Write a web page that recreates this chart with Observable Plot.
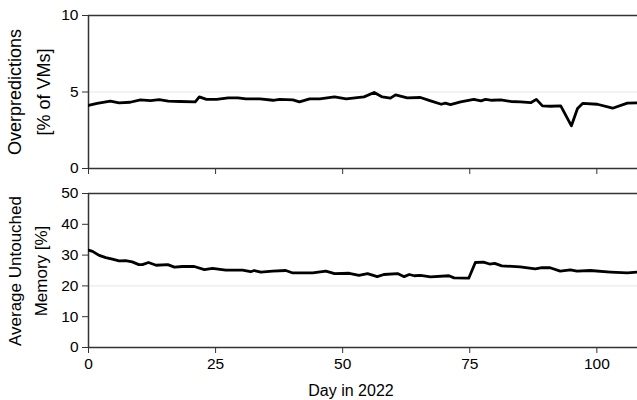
<!DOCTYPE html>
<html>
<head>
<meta charset="utf-8">
<script src="https://cdn.jsdelivr.net/npm/d3@7"></script>
<script src="https://cdn.jsdelivr.net/npm/@observablehq/plot@0.6"></script>
<style>
  html, body { margin: 0; padding: 0; background: #fff; }
  #chart { width: 637px; height: 400px; overflow: hidden; }
  #chart svg { display: block; }
</style>
</head>
<body>
<div id="chart"></div>
<script>
// Top panel: overpredictions [% of VMs]
const overDays = [0, 1.7, 4.3, 6, 8.2, 10.2, 12.2, 13.9, 15.7, 18, 21, 21.8, 23.2, 25.2, 27.5, 29.4, 31, 33.7, 36.3, 37.6, 40.2, 41.5, 43.5, 45.5, 48.4, 50.7, 52, 53.3, 54.2, 56.2, 57.8, 59.4, 60.4, 62.7, 65.3, 67.3, 69.4, 70.2, 71.2, 73.2, 75.8, 77.2, 78.1, 79.4, 81.1, 83.1, 85, 87, 88.1, 89.3, 90.9, 92.9, 95, 96.2, 97.2, 100.1, 103.1, 106, 108];
const overValues = [4.12, 4.25, 4.4, 4.29, 4.33, 4.48, 4.44, 4.5, 4.4, 4.38, 4.35, 4.68, 4.52, 4.52, 4.62, 4.62, 4.55, 4.55, 4.46, 4.52, 4.48, 4.35, 4.55, 4.55, 4.68, 4.55, 4.6, 4.65, 4.68, 4.97, 4.68, 4.6, 4.81, 4.62, 4.64, 4.42, 4.2, 4.27, 4.18, 4.35, 4.52, 4.42, 4.52, 4.46, 4.48, 4.38, 4.35, 4.3, 4.52, 4.09, 4.07, 4.09, 2.79, 3.92, 4.25, 4.2, 3.94, 4.27, 4.29];

// Bottom panel: average untouched memory [%]
const memDays = [0, 0.8, 2.1, 3.4, 4.7, 6, 7.3, 8.6, 9.9, 10.6, 11.8, 13.3, 15.6, 16.9, 18.5, 20.8, 22.8, 24.4, 27, 30.3, 31.9, 32.6, 33.9, 36.2, 38.8, 40.2, 44.1, 46.7, 48.4, 51.3, 53.2, 54.9, 56.8, 58.1, 60.8, 62.1, 63.1, 64.1, 65.3, 67.3, 70.9, 71.9, 74.8, 76.1, 77.7, 78.9, 79.9, 81.3, 84.9, 87.9, 89.2, 90.8, 92.8, 94.8, 96.1, 98.7, 102.7, 106, 108];
const memValues = [31.6, 31.2, 29.9, 29.2, 28.7, 28.1, 28.2, 27.8, 26.9, 26.9, 27.6, 26.7, 26.9, 26.1, 26.3, 26.3, 25.3, 25.7, 25.1, 25.1, 24.6, 25.0, 24.5, 24.8, 25.0, 24.2, 24.2, 24.8, 24.0, 24.1, 23.4, 24.0, 23.0, 23.7, 24.0, 23.0, 23.7, 23.3, 23.4, 22.9, 23.3, 22.6, 22.5, 27.6, 27.7, 27.1, 27.3, 26.5, 26.2, 25.5, 25.9, 25.9, 24.8, 25.2, 24.8, 25.0, 24.5, 24.2, 24.5];

const xTicks = [0, 25, 50, 75, 100];
const overTicks = [0, 5, 10];
const memTicks = [0, 10, 20, 30, 40, 50];

const over = overDays.map((d, i) => ({day: d, value: overValues[i]}));
const mem = memDays.map((d, i) => ({day: d, value: memValues[i]}));

const FONT = "'Liberation Sans', Arial, Helvetica, sans-serif";
const frameColor = "#333";

function panel(data, yDomain, yTicks, grid, opts) {
  return Plot.plot({
    width: 637,
    height: opts.height,
    marginLeft: 88,
    marginRight: 0,
    marginTop: opts.marginTop,
    marginBottom: opts.marginBottom,
    style: {fontFamily: FONT, fontSize: "14px", color: "#000", background: "#fff", overflow: "visible"},
    x: {domain: [0, 108]},
    y: {domain: yDomain},
    marks: [
      Plot.ruleY(grid, {stroke: "#e6e6e6", strokeWidth: 1}),
      Plot.axisY({ticks: yTicks, tickSize: 6, tickPadding: 4, label: null, stroke: frameColor, fill: "#000", fontSize: 15.5}),
      Plot.axisX({ticks: xTicks, tickSize: 6, tickPadding: 4, label: null, stroke: frameColor, fill: "#000", fontSize: 15.5,
                  tickFormat: opts.showX ? (d => d) : (() => "")}),
      Plot.ruleX([0], {stroke: frameColor, strokeWidth: 1.5}),
      Plot.ruleY([yDomain[0]], {stroke: frameColor, strokeWidth: 1.5}),
      Plot.ruleY([yDomain[1]], {stroke: frameColor, strokeWidth: 1.5}),
      Plot.line(data, {x: "day", y: "value", stroke: "#000", strokeWidth: 2.8, strokeLinejoin: "round", clip: true})
    ]
  });
}

const topPanel = panel(over, [0, 10], overTicks, [5], {height: 180, marginTop: 15, marginBottom: 12, showX: false});
const bottomPanel = panel(mem, [0, 50], memTicks, [20], {height: 220, marginTop: 13, marginBottom: 53, showX: true});

function addLabel(svg, lines, cy, size, gap) {
  const t = d3.select(svg).append("text")
    .attr("transform", `translate(0,${cy}) rotate(-90)`)
    .attr("text-anchor", "middle")
    .attr("font-family", FONT)
    .attr("font-size", size)
    .attr("fill", "#000");
  lines.forEach((s, i) => {
    t.append("tspan").attr("x", 0).attr("y", 21 + i * gap).text(s);
  });
}
addLabel(topPanel, ["Overpredictions", "[% of VMs]"], 92, 18, 29);
addLabel(bottomPanel, ["Average Untouched", "Memory [%]"], 91, 17, 26);

d3.select(bottomPanel).append("text")
  .attr("x", 351).attr("y", 216)
  .attr("text-anchor", "middle")
  .attr("font-family", FONT)
  .attr("font-size", 16)
  .attr("fill", "#000")
  .text("Day in 2022");

const chart = document.getElementById("chart");
chart.appendChild(topPanel);
chart.appendChild(bottomPanel);
</script>
</body>
</html>
